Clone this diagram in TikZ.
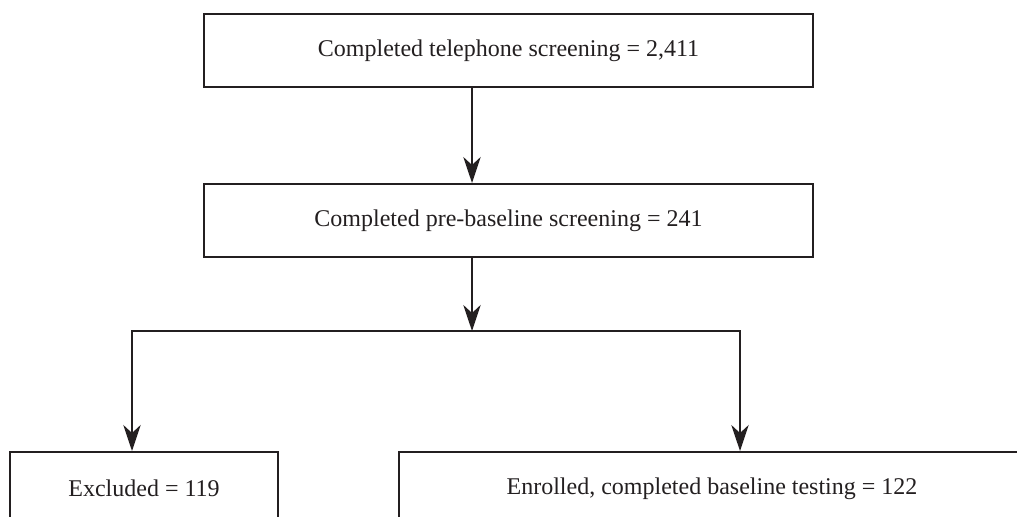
\documentclass[tikz,border=0pt]{standalone}
\usepackage{fontspec}
\setmainfont{Liberation Serif}
\usetikzlibrary{arrows.meta}
\definecolor{ink}{HTML}{231F20}

\begin{document}
\begin{tikzpicture}[x=0.75pt, y=-0.75pt,
    box/.style={draw=ink, line width=1.5pt, minimum height=54.75pt, inner sep=0pt,
        text=ink, font=\fontsize{18}{21.6}\selectfont},
    arr/.style={ink, line width=1.5pt, -{Stealth[length=19.5pt, width=13pt, inset=6pt]}}]
    \useasboundingbox (0,0) rectangle (1017,517);
    \clip (0,0) rectangle (1017,517);
    % boxes
    \node[box, minimum width=456.75pt] (phone) at (508.5,50.5) {Completed telephone screening = 2,411};
    \node[box, minimum width=456.75pt] (prebase) at (508.5,220.5) {Completed pre-baseline screening = 241};
    \node[box, minimum width=201pt] (excl) at (144,488.5) {Excluded = 119};
    \node[box, minimum width=469.5pt] (enrol) at (712,488.5) {Enrolled, completed baseline testing = 122};
    % branch points
    \coordinate (split) at (472,331);
    \coordinate (left) at (132,331);
    \coordinate (right) at (740,331);
    % arrows
    \draw[arr] (phone.south -| split) -- (prebase.north -| split);
    \draw[arr] (prebase.south -| split) -- (split);
    \draw[arr] (split) -| (excl.north -| left);
    \draw[arr] (split) -| (enrol.north -| right);
\end{tikzpicture}
\end{document}
